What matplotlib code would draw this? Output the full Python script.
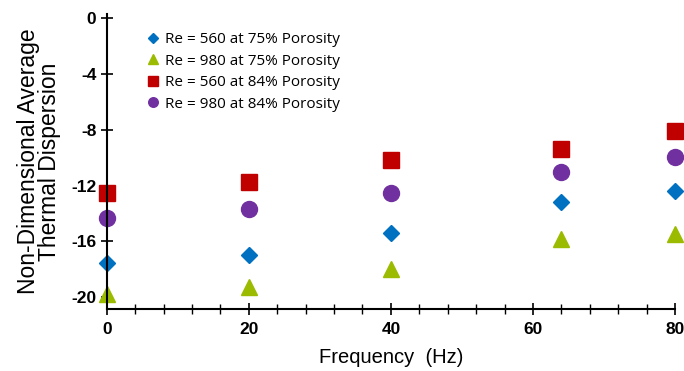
import numpy as np
import matplotlib.pyplot as plt
from matplotlib.ticker import MultipleLocator

freq = [0, 20, 40, 64, 80]
re560_75 = [-17.55, -17.0, -15.4, -13.2, -12.4]
re980_75 = [-19.75, -19.3, -18.0, -15.8, -15.5]
re560_84 = [-12.55, -11.75, -10.2, -9.4, -8.1]
re980_84 = [-14.3, -13.7, -12.5, -11.05, -9.95]

labels = ['Re = 560 at 75% Porosity', 'Re = 980 at 75% Porosity',
          'Re = 560 at 84% Porosity', 'Re = 980 at 84% Porosity']

plt.rcParams['font.family'] = ['Liberation Sans', 'DejaVu Sans']
plt.rcParams['axes.unicode_minus'] = False

fig = plt.figure(figsize=(6.84, 3.71), dpi=100)
ax = fig.add_axes([0.156, 0.167, 0.831, 0.795])

ax.plot(freq, re560_75, 'D', color='#0070C0', ms=8.5, ls='none', label=labels[0], clip_on=False)
ax.plot(freq, re980_75, '^', color='#9BBB00', ms=11.5, ls='none', label=labels[1], clip_on=False)
ax.plot(freq, re560_84, 's', color='#C00000', ms=11.5, ls='none', label=labels[2], clip_on=False)
ax.plot(freq, re980_84, 'o', color='#7030A0', ms=11.5, ls='none', label=labels[3], clip_on=False)

ax.set_xlim(0, 80)
ax.set_ylim(-20.86, 0.3)
ax.set_xticks([0, 20, 40, 60, 80])
ax.xaxis.set_minor_locator(MultipleLocator(4))
ax.set_yticks([0, -4, -8, -12, -16, -20])

ax.spines['top'].set_visible(False)
ax.spines['right'].set_visible(False)
for s in ['left', 'bottom']:
    ax.spines[s].set_linewidth(1.5)

ax.tick_params(axis='both', which='major', labelsize=12.5, width=1.2, length=8, direction='inout')
ax.tick_params(axis='x', which='minor', width=1.0, length=7, direction='inout')
ax.tick_params(axis='x', which='major', pad=5)
for t in ax.get_xticklabels() + ax.get_yticklabels():
    t.set_fontweight('bold')

ax.set_xlabel('Frequency  (Hz)', fontsize=14.5, labelpad=8)
ax.set_ylabel('Non-Dimensional Average\nThermal Dispersion', fontsize=16.5, linespacing=0.92, labelpad=7)

leg = ax.legend(loc='upper left', bbox_to_anchor=(0.05, 0.985), frameon=False,
                prop={'family': 'Open Sans', 'size': 11}, markerscale=0.6,
                handlelength=0.6, handletextpad=0.45, labelspacing=0.42)

fig.savefig('out.png', dpi=100)
